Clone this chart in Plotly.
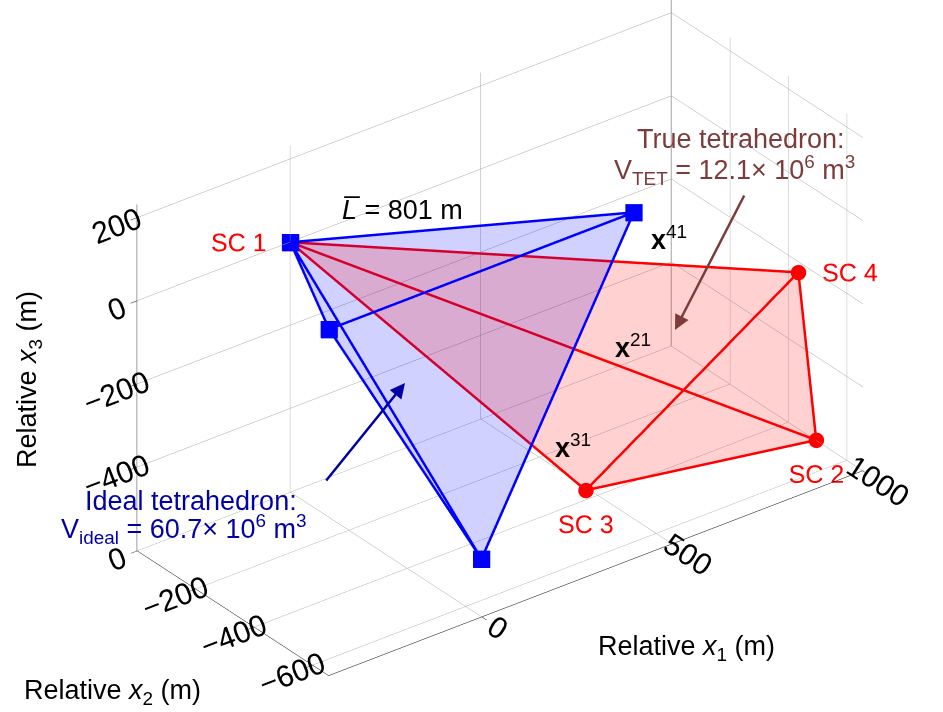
import plotly.graph_objects as go

# ---- data (metres, relative to SC 1) ----
sc_names = ["SC 1", "SC 2", "SC 3", "SC 4"]
true_x1 = [0, 1000, 435, 993]
true_x2 = [0, -496, -444, -444]
true_x3 = [0, -600, -546, -218]

ideal_x1 = [0, 400, -400, 0]
ideal_x2 = [0, -654, -654, -654]
ideal_x3 = [0, 231, 231, -462]

edges = [(0, 1), (0, 2), (0, 3), (1, 2), (1, 3), (2, 3)]
faces = [(0, 1, 2), (0, 1, 3), (0, 2, 3), (1, 2, 3)]

x1_ticks = [0, 500, 1000]
x2_ticks = [-600, -400, -200, 0]
x3_ticks = [-400, -200, 0, 200]
x1_range = [-402, 1001]
x2_range = [-655, 1]
x3_range = [-601, 232]

FONT = "Liberation Sans, Arial, Helvetica, sans-serif"
W, H = 943, 712
TXT = 27


def edge_path(v):
    out = []
    for a, b in edges:
        out += [v[a], v[b], None]
    return out


fig = go.Figure()

# translucent faces
for xs, ys, zs, col, op in [(ideal_x1, ideal_x2, ideal_x3, "rgb(0,0,255)", 0.095),
                            (true_x1, true_x2, true_x3, "rgb(255,0,0)", 0.095)]:
    fig.add_trace(go.Mesh3d(
        x=xs, y=ys, z=zs,
        i=[f[0] for f in faces], j=[f[1] for f in faces], k=[f[2] for f in faces],
        color=col, opacity=op, flatshading=True,
        lighting=dict(ambient=1, diffuse=0, specular=0, roughness=1, fresnel=0),
        hoverinfo="skip", showscale=False))

# true tetrahedron edges + points
fig.add_trace(go.Scatter3d(
    x=edge_path(true_x1), y=edge_path(true_x2), z=edge_path(true_x3),
    mode="lines", line=dict(color="rgb(255,0,0)", width=5), hoverinfo="skip"))
fig.add_trace(go.Scatter3d(
    x=true_x1, y=true_x2, z=true_x3, mode="markers+text",
    marker=dict(color="rgb(255,0,0)", size=9, symbol="circle"),
    text=sc_names,
    textposition=["middle left", "bottom center", "bottom center", "middle right"],
    textfont=dict(family=FONT, size=TXT - 2, color="rgb(255,0,0)"),
    hoverinfo="skip"))

# ideal tetrahedron edges + points
fig.add_trace(go.Scatter3d(
    x=edge_path(ideal_x1), y=edge_path(ideal_x2), z=edge_path(ideal_x3),
    mode="lines", line=dict(color="rgb(0,0,255)", width=5), hoverinfo="skip"))
fig.add_trace(go.Scatter3d(
    x=ideal_x1, y=ideal_x2, z=ideal_x3, mode="markers",
    marker=dict(color="rgb(0,0,255)", size=9, symbol="square"),
    hoverinfo="skip"))

axis_common = dict(
    showbackground=False, showgrid=True, gridcolor="rgb(165,165,165)", gridwidth=1,
    showline=True, linecolor="black", linewidth=1, zeroline=False,
    ticks="outside", tickcolor="black", ticklen=8, showspikes=False,
    tickfont=dict(family=FONT, size=19, color="black"),
    title=dict(text=""),
)

k = 1.892  # orthographic zoom via aspect ratio
dz = 0.060  # vertical shift of the view centre
span = x1_range[1] - x1_range[0]
fig.update_layout(
    width=W, height=H, margin=dict(l=0, r=0, t=0, b=0),
    paper_bgcolor="white", showlegend=False,
    font=dict(family=FONT, size=TXT, color="black"),
    scene=dict(
        domain=dict(x=[0.06, 1.0], y=[0.0, 1.0]),
        xaxis=dict(range=x1_range, tickvals=x1_ticks, **axis_common),
        yaxis=dict(range=x2_range, tickvals=x2_ticks, **axis_common),
        zaxis=dict(range=x3_range, tickvals=x3_ticks, **axis_common),
        aspectmode="manual",
        aspectratio=dict(x=k, y=k * (x2_range[1] - x2_range[0]) / span,
                         z=k * (x3_range[1] - x3_range[0]) / span),
        camera=dict(projection=dict(type="orthographic"),
                    eye=dict(x=-0.527 * 1.6, y=-0.687 * 1.6, z=0.5 * 1.6 - dz),
                    up=dict(x=0, y=0, z=1), center=dict(x=0, y=0, z=-dz)),
    ),
)


def px(x, y):
    return x / W, 1 - y / H


RED_T = "rgb(125,60,60)"
BLUE_T = "rgb(0,0,165)"
annots = []
# text labels: (text, (x, y), colour, size, angle, xanchor)
for txt, (x, y), col, size, ang, xa in [
    ("<i>L\u0305</i> = 801 m", (402, 210), "black", TXT, 0, "center"),
    ("<b>x</b><sup>41</sup>", (669, 238), "black", TXT, 0, "center"),
    ("<b>x</b><sup>21</sup>", (633, 346), "black", TXT, 0, "center"),
    ("<b>x</b><sup>31</sup>", (573, 446), "black", TXT, 0, "center"),
    ("True tetrahedron:", (741, 139), RED_T, TXT, 0, "center"),
    ("V<sub>TET</sub> = 12.1\u00d7 10<sup>6</sup> m<sup>3</sup>", (612, 170), RED_T, TXT, 0, "left"),
    ("Ideal tetrahedron:", (191, 501), BLUE_T, TXT, 0, "center"),
    ("V<sub>ideal</sub> = 60.7\u00d7 10<sup>6</sup> m<sup>3</sup>", (59, 529), BLUE_T, TXT, 0, "left"),
    ("Relative <i>x</i><sub>1</sub> (m)", (686, 648), "black", TXT, 0, "center"),
    ("Relative <i>x</i><sub>2</sub> (m)", (112, 692), "black", TXT, 0, "center"),
    ("Relative <i>x</i><sub>3</sub> (m)", (29, 380), "black", TXT, -90, "center"),
]:
    ax_, ay_ = px(x, y)
    annots.append(dict(x=ax_, y=ay_, xref="paper", yref="paper", text=txt, showarrow=False,
                       font=dict(family=FONT, size=size, color=col), align="center",
                       textangle=ang, xanchor=xa, yanchor="middle"))
# arrows
for (tx, ty), (sx, sy), col in [((675, 330), (745, 194), RED_T),
                                ((405, 383), (325, 482), BLUE_T)]:
    ax_, ay_ = px(tx, ty)
    annots.append(dict(x=ax_, y=ay_, xref="paper", yref="paper", text="", showarrow=True,
                       ax=sx - tx, ay=sy - ty, arrowhead=2, arrowsize=1.2, arrowwidth=2.5,
                       arrowcolor=col))
fig.update_layout(annotations=annots)

fig.write_html("out.html")
